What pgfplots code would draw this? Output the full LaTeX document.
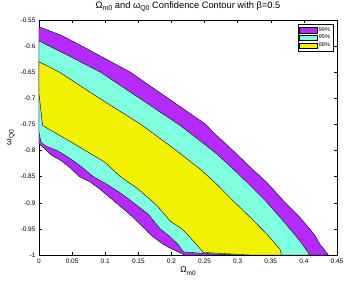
\documentclass[border=0pt]{standalone}
\usepackage{fontspec}
\setmainfont{Liberation Sans}
\usepackage{pgfplots}
\pgfplotsset{compat=1.18}
\definecolor{c99}{HTML}{B52BFF}
\definecolor{c95}{HTML}{7FFFDF}
\definecolor{c68}{HTML}{F2F200}
\newcommand{\sub}[2][6.5]{\raisebox{-0.5ex}{\fontsize{#1}{#1}\selectfont #2}}

\begin{document}
\begin{tikzpicture}
\path[use as bounding box] (-39pt,-26pt) rectangle (307pt,255pt);
\begin{axis}[
  scale only axis,
  width=298pt, height=235pt,
  xmin=0, xmax=0.45, ymin=-1, ymax=-0.55,
  xtick={0,0.05,0.1,0.15,0.2,0.25,0.3,0.35,0.4,0.45},
  xticklabels={0,0.05,0.1,0.15,0.2,0.25,0.3,0.35,0.4,0.45},
  ytick={-1,-0.95,-0.9,-0.85,-0.8,-0.75,-0.7,-0.65,-0.6,-0.55},
  yticklabels={-1,-0.95,-0.9,-0.85,-0.8,-0.75,-0.7,-0.65,-0.6,-0.55},
  tick align=inside, tick pos=both,
  major tick length=3pt,
  ticklabel style={font=\fontsize{6.5}{7}\selectfont},
  axis line style={draw=black, line width=0.4pt},
  every tick/.style={black, line width=0.4pt},
  title={\fontsize{9.3}{10}\selectfont Ω\sub[7]{m0} and ω\sub[7]{Q0} Confidence Contour with β=0.5},
  title style={yshift=-1.5pt},
  xlabel={\fontsize{8.5}{9}\selectfont Ω\sub{m0}},
  ylabel={\fontsize{8.5}{9}\selectfont ω\sub{Q0}},
  xlabel style={yshift=3pt},
  ylabel style={yshift=-1pt},
  legend style={at={(0.987,0.983)}, anchor=north east, draw=black,
    font=\fontsize{5.5}{6}\selectfont, inner sep=1pt, row sep=-1.5pt,
    cells={anchor=west}},
  legend image code/.code={\draw[#1, draw=black, line width=0.4pt] (0pt,-2.6pt) rectangle (12pt,2.6pt);},
]
% 99%
\addplot[fill=c99, draw=black, line width=0.4pt, area legend] coordinates {
  (0,-0.563) (0.033,-0.579) (0.062,-0.598) (0.100,-0.624) (0.138,-0.650)
  (0.195,-0.700) (0.252,-0.750) (0.263,-0.765) (0.293,-0.800) (0.319,-0.832)
  (0.344,-0.861) (0.369,-0.896) (0.394,-0.928) (0.410,-0.952) (0.417,-0.963)
  (0.424,-0.979) (0.437,-1.0)
  (0.220,-1.0) (0.215,-0.997) (0.203,-0.990) (0.188,-0.980) (0.170,-0.963)
  (0.160,-0.950) (0.137,-0.922) (0.122,-0.906) (0.107,-0.890) (0.092,-0.874)
  (0.077,-0.860) (0.061,-0.850) (0.047,-0.833) (0.033,-0.819) (0.019,-0.809)
  (0.009,-0.797) (0,-0.787)
} -- cycle;
% 95%
\addplot[fill=c95, draw=black, line width=0.4pt, area legend] coordinates {
  (0,-0.590) (0.047,-0.620) (0.093,-0.650) (0.152,-0.700) (0.211,-0.750)
  (0.243,-0.781) (0.268,-0.806) (0.293,-0.835) (0.319,-0.867) (0.344,-0.899)
  (0.369,-0.935) (0.394,-0.973) (0.409,-1.0)
  (0.300,-1.0) (0.248,-0.997) (0.218,-0.994) (0.210,-0.980) (0.198,-0.965)
  (0.183,-0.950) (0.165,-0.922) (0.150,-0.907) (0.124,-0.882) (0.099,-0.862)
  (0.082,-0.850) (0.065,-0.832) (0.049,-0.817) (0.029,-0.801) (0.010,-0.791)
  (0.003,-0.784) (0,-0.765)
} -- cycle;
% 68%
\addplot[fill=c68, draw=black, line width=0.4pt, area legend] coordinates {
  (0,-0.630) (0.031,-0.650) (0.090,-0.699) (0.154,-0.750) (0.200,-0.793)
  (0.243,-0.835) (0.268,-0.864) (0.293,-0.896) (0.319,-0.928) (0.344,-0.960)
  (0.364,-0.989) (0.366,-1.0)
  (0.320,-1.0) (0.310,-0.9995) (0.248,-0.995) (0.233,-0.973) (0.216,-0.950)
  (0.198,-0.935) (0.178,-0.905) (0.150,-0.874) (0.123,-0.850) (0.099,-0.822)
  (0.074,-0.803) (0.049,-0.784) (0.019,-0.762) (0.0055,-0.752) (0,-0.691)
} -- cycle;
\legend{99\%, 95\%, 68\%}
\end{axis}
\end{tikzpicture}
\end{document}
